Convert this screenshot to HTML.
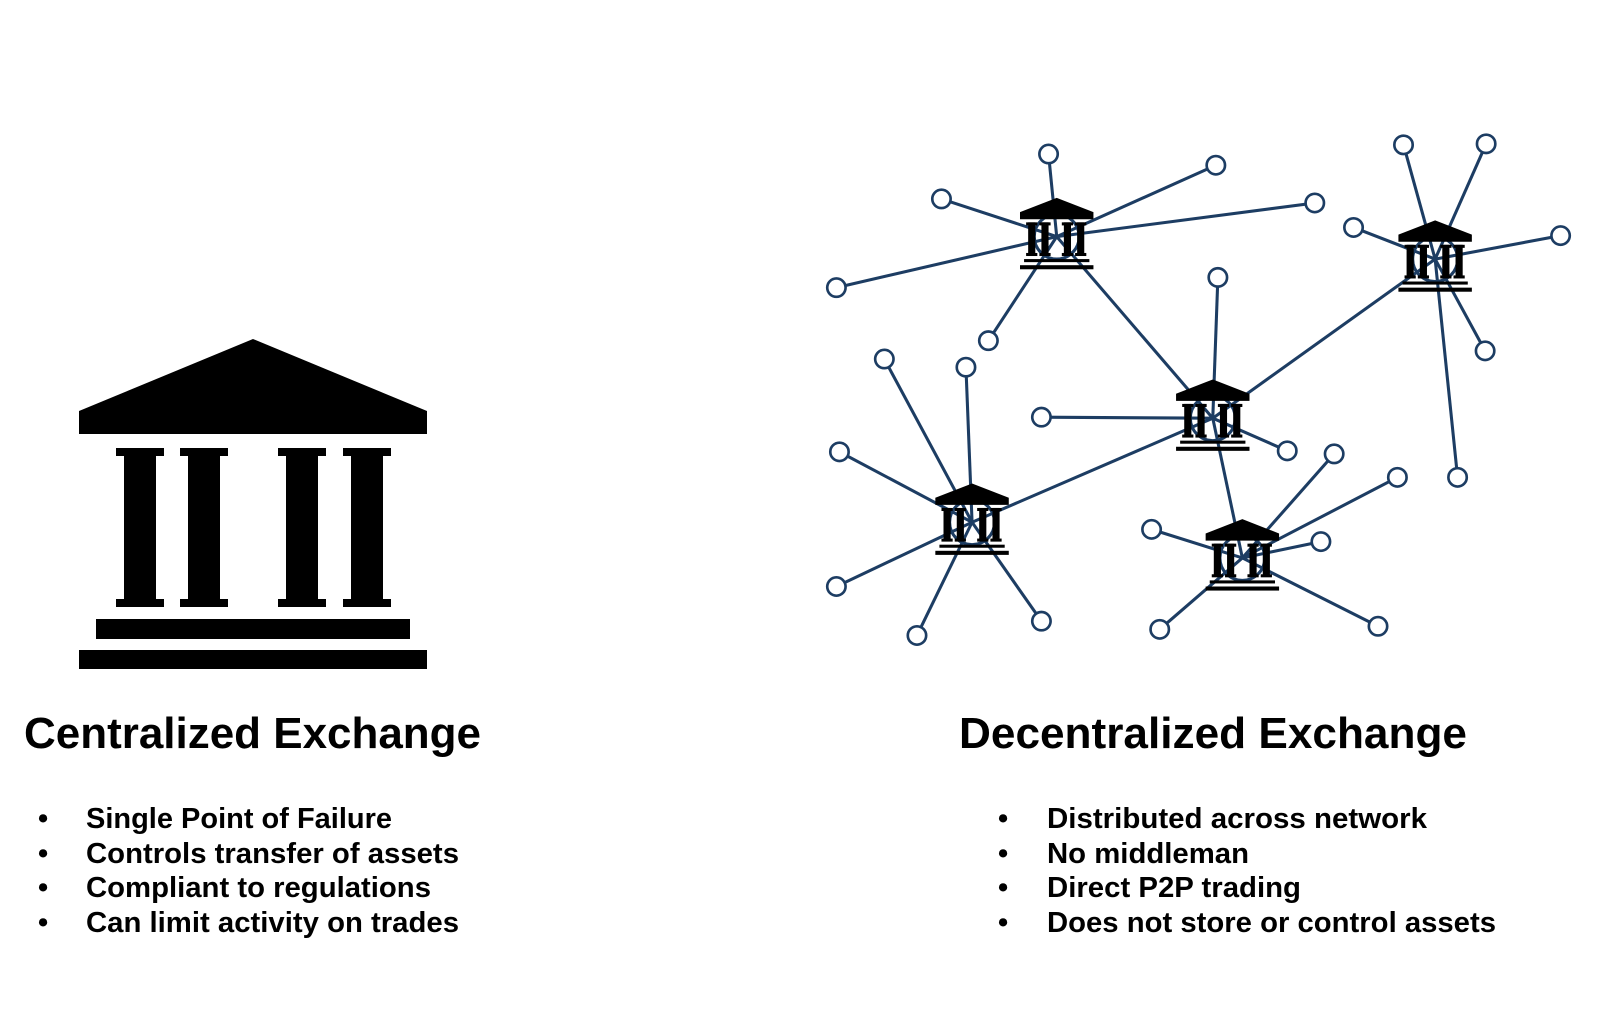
<!DOCTYPE html>
<html><head><meta charset="utf-8"><style>
html,body{margin:0;padding:0;background:#fff;width:1600px;height:1028px;overflow:hidden}
text{font-family:"Liberation Sans",Arial,sans-serif;font-weight:bold;fill:#000}
</style></head><body>
<svg width="1600" height="1028" viewBox="0 0 1600 1028" xmlns="http://www.w3.org/2000/svg">
<defs>
<g id="b">
 <polygon points="0,-36 36,-22 36,-15 -36,-15 -36,-22"/>
 <rect x="-30" y="-12" width="11" height="3"/><rect x="-28" y="-12" width="7" height="32"/><rect x="-30" y="18" width="11" height="3"/>
 <rect x="-17" y="-12" width="11" height="3"/><rect x="-15" y="-12" width="7" height="32"/><rect x="-17" y="18" width="11" height="3"/>
 <rect x="5" y="-12" width="11" height="3"/><rect x="7" y="-12" width="7" height="32"/><rect x="5" y="18" width="11" height="3"/>
 <rect x="18" y="-12" width="11" height="3"/><rect x="20" y="-12" width="7" height="32"/><rect x="18" y="18" width="11" height="3"/>
 <rect x="-32" y="24" width="64" height="3"/>
 <rect x="-36" y="30" width="72" height="4"/>
</g>
</defs>
<!-- big building -->
<g fill="#000">
 <polygon points="253,339 427,411 427,434 79,434 79,411"/>
 <rect x="116" y="448" width="48" height="8"/><rect x="124" y="448" width="32" height="159"/><rect x="116" y="599" width="48" height="8"/>
 <rect x="180" y="448" width="48" height="8"/><rect x="188" y="448" width="32" height="159"/><rect x="180" y="599" width="48" height="8"/>
 <rect x="278" y="448" width="48" height="8"/><rect x="286" y="448" width="32" height="159"/><rect x="278" y="599" width="48" height="8"/>
 <rect x="343" y="448" width="48" height="8"/><rect x="351" y="448" width="32" height="159"/><rect x="343" y="599" width="48" height="8"/>
 <rect x="96" y="619" width="314" height="20"/>
 <rect x="79" y="650" width="348" height="19"/>
</g>
<g transform="scale(1.02)">
<g stroke="#1d3d63" stroke-width="3" fill="none">
 <line x1="1036" y1="232" x2="1189" y2="410"/>
 <line x1="1189" y1="410" x2="1407" y2="254"/>
 <line x1="1189" y1="410" x2="953" y2="512"/>
 <line x1="1189" y1="410" x2="1218" y2="547"/>
 <line x1="1036" y1="232" x2="1028" y2="151"/><line x1="1036" y1="232" x2="1192" y2="162"/><line x1="1036" y1="232" x2="1289" y2="199"/><line x1="1036" y1="232" x2="923" y2="195"/><line x1="1036" y1="232" x2="820" y2="282"/><line x1="1036" y1="232" x2="969" y2="334"/>
 <line x1="1407" y1="254" x2="1376" y2="142"/><line x1="1407" y1="254" x2="1457" y2="141"/><line x1="1407" y1="254" x2="1327" y2="223"/><line x1="1407" y1="254" x2="1530" y2="231"/><line x1="1407" y1="254" x2="1456" y2="344"/><line x1="1407" y1="254" x2="1429" y2="468"/>
 <line x1="1189" y1="410" x2="1194" y2="272"/><line x1="1189" y1="410" x2="1021" y2="409"/><line x1="1189" y1="410" x2="1262" y2="442"/>
 <line x1="953" y1="512" x2="867" y2="352"/><line x1="953" y1="512" x2="947" y2="360"/><line x1="953" y1="512" x2="823" y2="443"/><line x1="953" y1="512" x2="820" y2="575"/><line x1="953" y1="512" x2="899" y2="623"/><line x1="953" y1="512" x2="1021" y2="609"/>
 <line x1="1218" y1="547" x2="1308" y2="445"/><line x1="1218" y1="547" x2="1370" y2="468"/><line x1="1218" y1="547" x2="1129" y2="519"/><line x1="1218" y1="547" x2="1295" y2="531"/><line x1="1218" y1="547" x2="1137" y2="617"/><line x1="1218" y1="547" x2="1351" y2="614"/>
 <circle cx="1036" cy="232" r="22"/><circle cx="1407" cy="254" r="22"/><circle cx="1189" cy="410" r="22"/><circle cx="953" cy="512" r="22"/><circle cx="1218" cy="547" r="22"/>
</g>
<g stroke="#1d3d63" stroke-width="2.6" fill="#fff">
 <circle cx="1028" cy="151" r="9"/><circle cx="1192" cy="162" r="9"/><circle cx="1289" cy="199" r="9"/><circle cx="923" cy="195" r="9"/><circle cx="820" cy="282" r="9"/><circle cx="969" cy="334" r="9"/>
 <circle cx="1376" cy="142" r="9"/><circle cx="1457" cy="141" r="9"/><circle cx="1327" cy="223" r="9"/><circle cx="1530" cy="231" r="9"/><circle cx="1456" cy="344" r="9"/><circle cx="1429" cy="468" r="9"/>
 <circle cx="1194" cy="272" r="9"/><circle cx="1021" cy="409" r="9"/><circle cx="1262" cy="442" r="9"/>
 <circle cx="867" cy="352" r="9"/><circle cx="947" cy="360" r="9"/><circle cx="823" cy="443" r="9"/><circle cx="820" cy="575" r="9"/><circle cx="899" cy="623" r="9"/><circle cx="1021" cy="609" r="9"/>
 <circle cx="1308" cy="445" r="9"/><circle cx="1370" cy="468" r="9"/><circle cx="1129" cy="519" r="9"/><circle cx="1295" cy="531" r="9"/><circle cx="1137" cy="617" r="9"/><circle cx="1351" cy="614" r="9"/>
</g>
<g fill="#000">
 <use href="#b" x="1036" y="230"/>
 <use href="#b" x="1407" y="252"/>
 <use href="#b" x="1189" y="408"/>
 <use href="#b" x="953" y="510"/>
 <use href="#b" x="1218" y="545"/>
</g>
</g>
<text x="24" y="748" font-size="44" textLength="457" lengthAdjust="spacingAndGlyphs">Centralized Exchange</text>
<text x="959" y="748" font-size="44" textLength="508" lengthAdjust="spacingAndGlyphs">Decentralized Exchange</text>
<g font-size="29">
 <text x="38" y="828">•</text><text x="38" y="863">•</text><text x="38" y="897">•</text><text x="38" y="932">•</text>
 <text x="86" y="828" textLength="306" lengthAdjust="spacingAndGlyphs">Single Point of Failure</text>
 <text x="86" y="863" textLength="373" lengthAdjust="spacingAndGlyphs">Controls transfer of assets</text>
 <text x="86" y="897" textLength="345" lengthAdjust="spacingAndGlyphs">Compliant to regulations</text>
 <text x="86" y="932" textLength="373" lengthAdjust="spacingAndGlyphs">Can limit activity on trades</text>
 <text x="998" y="828">•</text><text x="998" y="863">•</text><text x="998" y="897">•</text><text x="998" y="932">•</text>
 <text x="1047" y="828" textLength="380" lengthAdjust="spacingAndGlyphs">Distributed across network</text>
 <text x="1047" y="863" textLength="202" lengthAdjust="spacingAndGlyphs">No middleman</text>
 <text x="1047" y="897" textLength="254" lengthAdjust="spacingAndGlyphs">Direct P2P trading</text>
 <text x="1047" y="932" textLength="449" lengthAdjust="spacingAndGlyphs">Does not store or control assets</text>
</g>
</svg>
</body></html>
